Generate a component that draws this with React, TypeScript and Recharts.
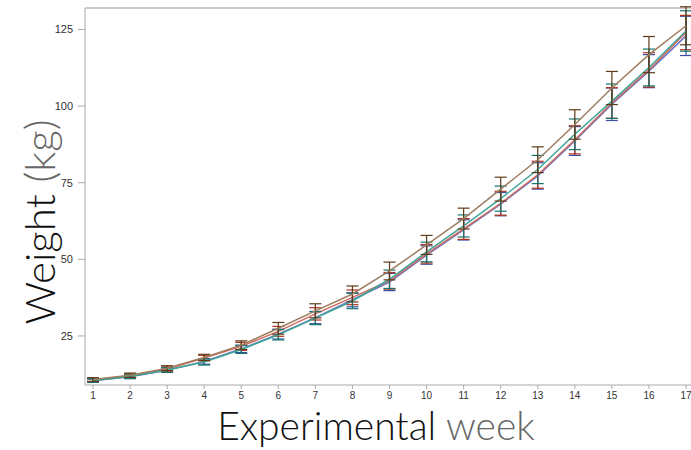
import { LineChart, Line, XAxis, YAxis, ErrorBar, ReferenceLine } from "recharts";

const weeks = [1, 2, 3, 4, 5, 6, 7, 8, 9, 10, 11, 12, 13, 14, 15, 16, 17];
const yTicks = [25, 50, 75, 100, 125];

// mean weight per group (kg)
const brownMean = [10.8, 12.2, 14.5, 18.0, 22.0, 27.5, 33.2, 38.7, 46.2, 54.7, 63.3, 72.9, 82.5, 94.0, 105.9, 116.8, 126.2];
const tealMean = [10.5, 11.8, 13.9, 16.5, 20.6, 25.4, 30.8, 36.4, 43.5, 52.4, 60.9, 69.8, 79.3, 90.8, 101.6, 112.6, 124.5];
const redMean = [10.6, 12.0, 14.2, 17.8, 21.6, 26.5, 32.2, 37.6, 43.0, 51.8, 59.9, 68.3, 77.6, 89.0, 101.0, 111.8, 124.0];
const blueMean = [10.4, 11.7, 13.8, 16.7, 20.8, 25.6, 31.0, 36.8, 42.6, 51.4, 59.6, 68.0, 77.2, 88.6, 100.6, 111.4, 122.9];

// standard deviations
const brownSd = [0.6, 0.7, 0.8, 1.0, 1.4, 1.9, 2.3, 2.6, 2.9, 3.1, 3.4, 3.9, 4.2, 4.8, 5.4, 5.9, 6.2];
const tealSd = [0.6, 0.7, 0.8, 1.0, 1.3, 1.7, 2.1, 2.5, 3.0, 3.2, 3.6, 4.1, 4.6, 5.0, 5.6, 6.0, 6.6];
const redSd = [0.5, 0.6, 0.7, 0.9, 1.3, 1.6, 2.0, 2.4, 2.7, 3.0, 3.4, 3.9, 4.4, 4.6, 5.0, 5.6, 5.6];
const blueSd = [0.5, 0.6, 0.7, 0.9, 1.2, 1.6, 2.0, 2.3, 2.8, 3.0, 3.3, 3.8, 4.3, 4.7, 5.3, 5.4, 6.4];

const data = weeks.map((w, i) => ({
  week: w,
  brown: brownMean[i], brownErr: brownSd[i],
  teal: tealMean[i], tealErr: tealSd[i],
  red: redMean[i], redErr: redSd[i],
  blue: blueMean[i], blueErr: blueSd[i],
}));

const titleFont = "Lato, 'DejaVu Sans', sans-serif";
const tickFont = "'Liberation Sans', Arial, sans-serif";

const XTitle = () => (
  <text x={376} y={440} textAnchor="middle" fontFamily={titleFont} fontWeight={300} fontSize={39}>
    <tspan fill="#111">Experimental </tspan>
    <tspan fill="#666">week</tspan>
  </text>
);

const YTitle = () => (
  <text
    x={55}
    y={222}
    transform="rotate(-90 55 222)"
    textAnchor="middle"
    fontFamily={titleFont}
    fontWeight={300}
    fontSize={42}
  >
    <tspan fill="#111">Weight </tspan>
    <tspan fill="#666">(kg)</tspan>
  </text>
);

export default function App() {
  return (
    <div style={{ position: "absolute", left: 0, top: 0, width: 691, height: 450, overflow: "hidden", background: "#fff" }}>
      <LineChart width={700} height={450} data={data} margin={{ top: 8, right: 6, left: 0, bottom: 0 }}>
        <XAxis
          dataKey="week"
          type="number"
          domain={[1, 17]}
          ticks={weeks}
          padding={{ left: 8, right: 8 }}
          height={65}
          stroke="#aaa"
          tickSize={4}
          tickMargin={3}
          tick={{ fill: "#333", fontSize: 10, fontFamily: tickFont }}
          label={<XTitle />}
        />
        <YAxis
          domain={[9, 132]}
          ticks={yTicks}
          allowDataOverflow
          width={85}
          stroke="#aaa"
          tickSize={7}
          tickMargin={5}
          tick={{ fill: "#333", fontSize: 11, fontFamily: tickFont }}
          label={<YTitle />}
        />
        <ReferenceLine y={132} stroke="#bbb" strokeWidth={1.5} />
        <Line dataKey="blue" stroke="#6f74c4" strokeWidth={1.5} dot={false} isAnimationActive={false}>
          <ErrorBar dataKey="blueErr" width={6} stroke="#3a4fa0" strokeWidth={1.2} />
        </Line>
        <Line dataKey="red" stroke="#cf6b5e" strokeWidth={1.5} dot={false} isAnimationActive={false}>
          <ErrorBar dataKey="redErr" width={6} stroke="#b0301e" strokeWidth={1.2} />
        </Line>
        <Line dataKey="teal" stroke="#3fa497" strokeWidth={1.5} dot={false} isAnimationActive={false}>
          <ErrorBar dataKey="tealErr" width={6} stroke="#15776b" strokeWidth={1.2} />
        </Line>
        <Line dataKey="brown" stroke="#9d7d5e" strokeWidth={1.5} dot={false} isAnimationActive={false}>
          <ErrorBar dataKey="brownErr" width={6} stroke="#5e3a17" strokeWidth={1.2} />
        </Line>
      </LineChart>
    </div>
  );
}
